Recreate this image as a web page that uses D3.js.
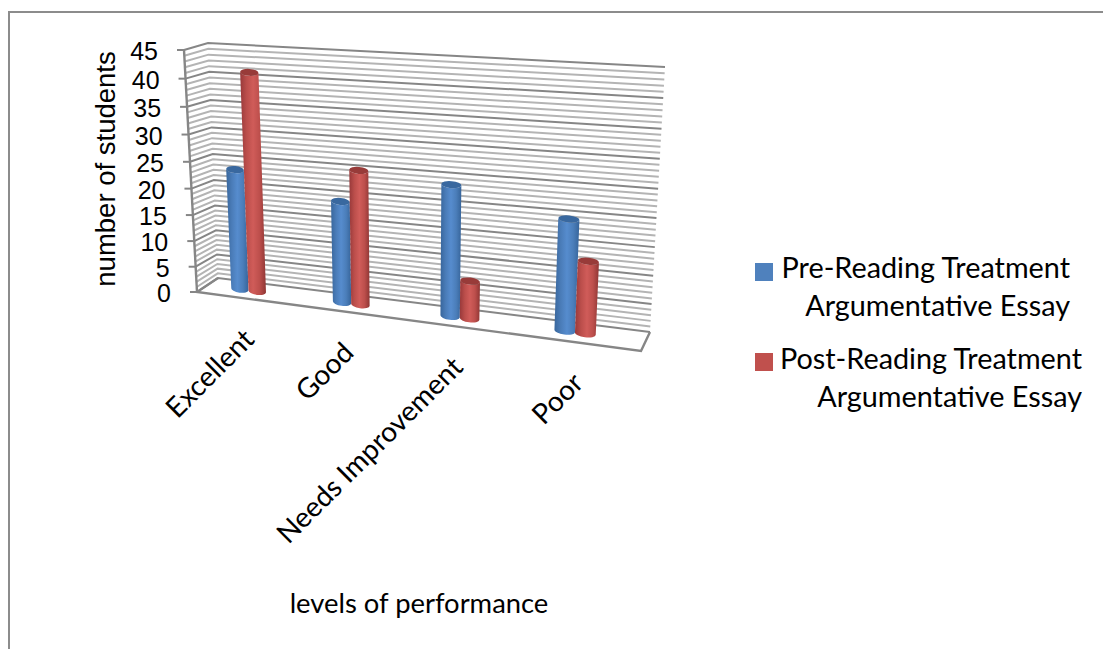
<!DOCTYPE html>
<html>
<head>
<meta charset="utf-8">
<script src="https://cdn.jsdelivr.net/npm/d3@7"></script>
<style>
html, body { margin: 0; padding: 0; background: #fff; overflow: hidden; }
</style>
</head>
<body>
<div id="chart"></div>
<script>
// data
const categories = ["Excellent", "Good", "Needs Improvement", "Poor"]
const preReading = [23, 19, 24, 20]
const postReading = [41, 25, 7, 13]
const valueTicks = [0, 5, 10, 15, 20, 25, 30, 35, 40, 45]
const legendLabels = [
    ["Pre-Reading Treatment", "Argumentative Essay"],
    ["Post-Reading Treatment", "Argumentative Essay"]
]
const yTitle = "number of students"
const xTitle = "levels of performance"

// constants
const width = 1103
const height = 649
const latoFont = "Lato, Carlito, sans-serif"
const arialFont = "'Liberation Sans', Arial, sans-serif"
const gridMajor = "#868686"
const gridMinor = "#b4b4b4"

// corners of the 3d box on screen
const frontLeft = { bottom: [197, 292], top: [184, 50] }
const backLeft = { bottom: [218, 278], top: [208, 43] }
const backRight = { bottom: [650, 332], top: [665, 67] }
const frontRight = { bottom: [641, 351], top: [656, 84] }
const mid = (a, b) => [(a[0] + b[0]) / 2, (a[1] + b[1]) / 2]

// unit square -> quad, projective so the far side shrinks
function quadMap(p00, p10, p11, p01) {
    const dx1 = p10[0] - p11[0], dx2 = p01[0] - p11[0], sx = p00[0] - p10[0] + p11[0] - p01[0]
    const dy1 = p10[1] - p11[1], dy2 = p01[1] - p11[1], sy = p00[1] - p10[1] + p11[1] - p01[1]
    const det = dx1 * dy2 - dx2 * dy1
    const g = (sx * dy2 - dx2 * sy) / det
    const h = (dx1 * sy - sx * dy1) / det
    const a = p10[0] - p00[0] + g * p10[0], b = p01[0] - p00[0] + h * p01[0]
    const d = p10[1] - p00[1] + g * p10[1], e = p01[1] - p00[1] + h * p01[1]
    return (u, v) => {
        const w = g * u + h * v + 1
        return [(a * u + b * v + p00[0]) / w, (d * u + e * v + p00[1]) / w]
    }
}

const backWall = quadMap(backLeft.bottom, backRight.bottom, backRight.top, backLeft.top)
const sideWall = quadMap(frontLeft.bottom, backLeft.bottom, backLeft.top, frontLeft.top)
const barPlane = quadMap(mid(frontLeft.bottom, backLeft.bottom), mid(frontRight.bottom, backRight.bottom),
    mid(frontRight.top, backRight.top), mid(frontLeft.top, backLeft.top))
const floorEdge = quadMap(frontLeft.bottom, frontRight.bottom, backRight.bottom, backLeft.bottom)

// scales
const v = d3.scaleLinear().domain([0, 45]).range([0, 1])
const x0 = d3.scaleBand().domain(categories).range([-0.021, 0.979])
const barW = 0.0435
const seriesOffset = d3.scaleOrdinal().domain([0, 1]).range([-barW / 2, barW / 2])

// the front edge of the value axis is spaced a bit more evenly than the projection
const frontEdge = d3.interpolate(frontLeft.bottom, frontLeft.top)
const axisPoint = d => d3.interpolate(sideWall(0, v(d)), frontEdge(v(d)))(0.4)

const svg = d3.select("#chart").append("svg").attr("width", width).attr("height", height)
    .style("display", "block")

// gradients for the cylinders
const defs = svg.append("defs")
const series = [
    { values: preReading, top: "#39689f", stops: ["#38669c", "#4a7cb8", "#568cce", "#4b7eba", "#36649a"], legend: "#4f81bd" },
    { values: postReading, top: "#983b39", stops: ["#98393a", "#bb4e4b", "#d05c59", "#bd4f4c", "#8f3634"], legend: "#c0504d" }
]
series.forEach((s, i) => {
    const grad = defs.append("linearGradient").attr("id", "cyl" + i)
    grad.selectAll("stop").data(s.stops).enter().append("stop")
        .attr("offset", (d, j) => j / (s.stops.length - 1))
        .attr("stop-color", d => d)
})

// frame
svg.append("path").attr("d", `M${width},12H9V${height}`).attr("fill", "none")
    .attr("stroke", "#8c8c8c").attr("stroke-width", 2)

// grid: one line per unit, darker every 5
const gridGroup = svg.append("g").attr("fill", "none")
const gridLine = d3.line()
const gridValues = d3.range(0, 46)
gridGroup.selectAll("path").data(gridValues.filter(d => d % 5 != 0).concat(valueTicks)).enter().append("path")
    .attr("d", d => gridLine([axisPoint(d), sideWall(1, v(d)), backWall(1, v(d))]))
    .attr("stroke", d => d % 5 == 0 ? gridMajor : gridMinor)
    .attr("stroke-width", 2)

// floor outline
svg.append("path")
    .attr("d", gridLine([floorEdge(0, 1), floorEdge(0, 0), floorEdge(1, 0), floorEdge(1, 1)]))
    .attr("fill", "none").attr("stroke", gridMajor).attr("stroke-width", 2.4)

// value axis
svg.append("path").attr("d", gridLine([sideWall(0, 0), sideWall(0, 1)]))
    .attr("stroke", gridMajor).attr("stroke-width", 2.4).attr("fill", "none")
const ticks = svg.append("g").selectAll("g").data(valueTicks).enter().append("g")
    .attr("transform", d => { const p = axisPoint(d); return `translate(${p[0]},${p[1]})` })
ticks.append("line").attr("x1", -7).attr("x2", 0).attr("stroke", gridMajor).attr("stroke-width", 2)
ticks.append("text").attr("x", -26).attr("y", 10).attr("text-anchor", "end")
    .attr("font-family", arialFont).attr("font-size", 25).attr("fill", "#000").text(d => d)

// cylinders
function cylinder(g, c, i, value, s) {
    const uc = x0(c) + x0.bandwidth() / 2 + seriesOffset(i)
    const l0 = barPlane(uc - barW / 2, 0), r0 = barPlane(uc + barW / 2, 0)
    const l1 = barPlane(uc - barW / 2, v(value)), r1 = barPlane(uc + barW / 2, v(value))
    const rx = (r1[0] - l1[0]) / 2, rxb = (r0[0] - l0[0]) / 2, ry = 3.5
    const rot = Math.atan2(r1[1] - l1[1], r1[0] - l1[0]) * 180 / Math.PI
    const rotb = Math.atan2(r0[1] - l0[1], r0[0] - l0[0]) * 180 / Math.PI
    g.append("path")
        .attr("d", `M${l1}L${l0}A${rxb},${ry} ${rotb} 0 0 ${r0}L${r1}A${rx},${ry} ${rot} 0 1 ${l1}Z`)
        .attr("fill", `url(#cyl${i})`)
    g.append("path")
        .attr("d", `M${l1}A${rx},${ry} ${rot} 0 0 ${r1}A${rx},${ry} ${rot} 0 0 ${l1}Z`)
        .attr("fill", s.top)
}
const barsGroup = svg.append("g")
categories.forEach((c, k) => {
    series.forEach((s, i) => {
        cylinder(barsGroup.append("g").attr("class", "bar"), c, i, s.values[k], s)
    })
})

// category labels
svg.append("g").selectAll("text").data(categories).enter().append("text")
    .attr("transform", d => {
        const p = floorEdge(x0(d) + x0.bandwidth() / 2, 0)
        return `translate(${p[0] + 20},${p[1] + 44}) rotate(-45)`
    })
    .attr("text-anchor", "end")
    .attr("font-family", latoFont).attr("font-size", 28).attr("fill", "#000").text(d => d)

// titles
svg.append("text").attr("transform", "translate(115,169) rotate(-90)").attr("text-anchor", "middle")
    .attr("font-family", arialFont).attr("font-size", 27.5).attr("fill", "#000").text(yTitle)
svg.append("text").attr("x", 419).attr("y", 613).attr("text-anchor", "middle")
    .attr("font-family", latoFont).attr("font-size", 27.4).attr("fill", "#000").text(xTitle)

// legend
const legendX = d3.scaleOrdinal().domain([0, 1]).range([1070, 1082])
const legendY = d3.scaleOrdinal().domain([0, 1]).range([263, 353])
const legend = svg.append("g").selectAll("g").data(legendLabels).enter().append("g")
legend.append("rect").attr("x", 755).attr("y", (d, i) => legendY(i)).attr("width", 18).attr("height", 18)
    .attr("fill", (d, i) => series[i].legend)
legend.each(function(d, i) {
    d3.select(this).selectAll("text").data(d).enter().append("text")
        .attr("x", legendX(i)).attr("y", (t, j) => legendY(i) + 15 + i + j * 38)
        .attr("text-anchor", "end")
        .attr("font-family", latoFont).attr("font-size", 28.8).attr("fill", "#000").text(t => t)
})
</script>
</body>
</html>
